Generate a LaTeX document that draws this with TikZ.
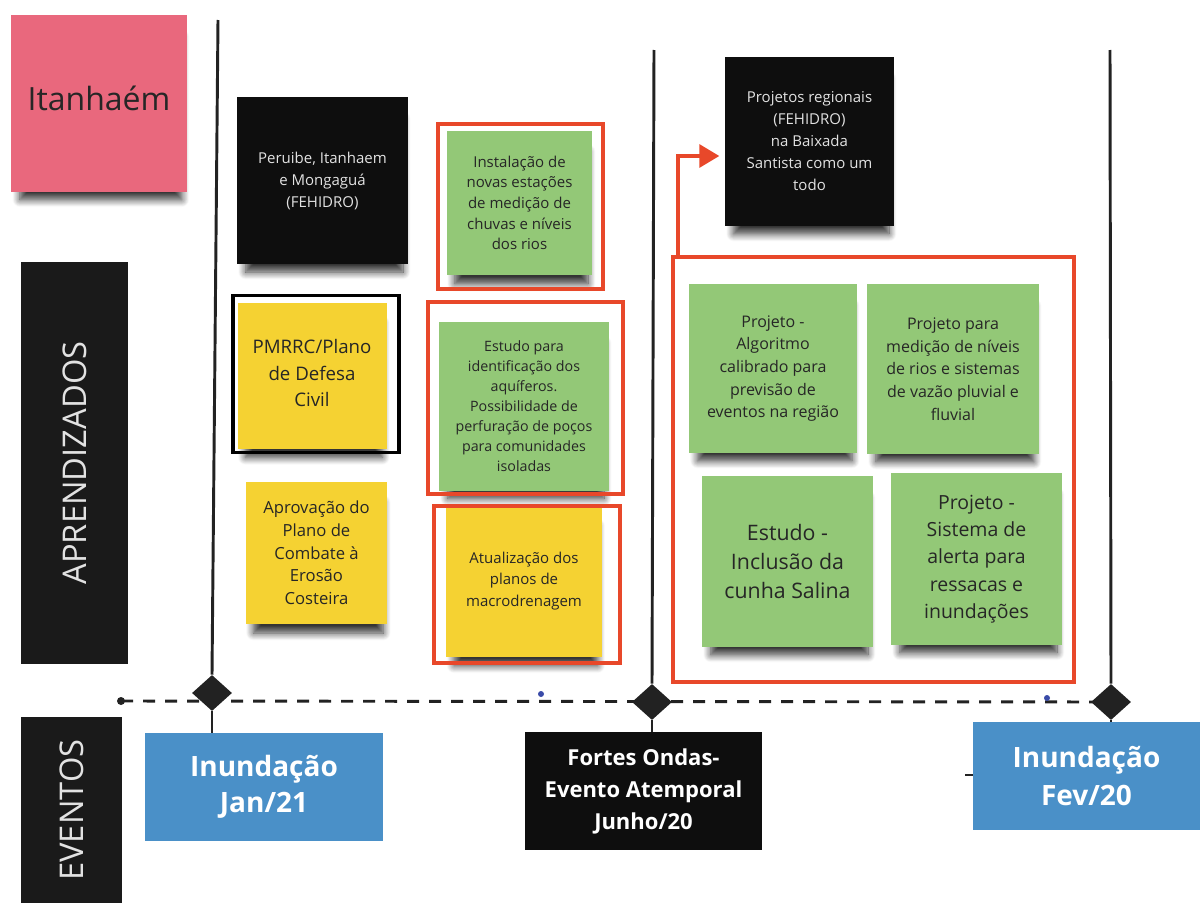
\documentclass[tikz,border=0pt]{standalone}
\usepackage{fontspec}
\setmainfont{Open Sans}
\usetikzlibrary{arrows.meta,calc,shapes.geometric,shadows.blur}
\definecolor{pinkc}{HTML}{E9687D}
\definecolor{greenc}{HTML}{93C877}
\definecolor{yellowc}{HTML}{F5D232}
\definecolor{bluec}{HTML}{4A90C8}
\definecolor{redc}{HTML}{E8482A}
\definecolor{blackc}{HTML}{0E0E0E}
\definecolor{barc}{HTML}{1A1A1A}
\definecolor{linec}{HTML}{222222}
\definecolor{notetext}{HTML}{262626}
\definecolor{lighttext}{HTML}{E2E2E2}
\definecolor{bluedot}{HTML}{3A4BA8}
\newcommand\setfs[2]{\fontsize{#1}{#2}\selectfont}
\tikzset{
  box/.style 2 args={minimum width=#1*0.75pt, minimum height=#2*0.75pt, inner sep=0pt, align=center, anchor=center},
  note/.style={blur shadow={shadow xshift=1.5pt, shadow yshift=-12pt, shadow scale=0.92, shadow opacity=80, shadow blur steps=10, shadow blur radius=6pt}, text=notetext},
  gnote/.style={note, fill=greenc},
  ynote/.style={note, fill=yellowc},
  knote/.style={note, fill=blackc, text=lighttext},
  redframe/.style={draw=redc, line width=2.4pt},
  vline/.style={draw=linec, line width=2.2pt},
  evbox/.style={text=white},
  dmd/.style={diamond, fill=linec, minimum width=30pt, minimum height=27pt, inner sep=0pt},
  dashline/.style={draw=linec, line width=2.2pt, dash pattern=on 9pt off 7.5pt},
}
\begin{document}
\begin{tikzpicture}[x=0.75pt,y=-0.75pt]
\useasboundingbox (0,0) rectangle (1200,903);

% side bars
\node[box={176}{177}, fill=pinkc, note, font=\setfs{24}{30}] (itan) at (99,103.5) {};
\node[text=notetext, font=\setfs{24}{30}, inner sep=0pt] (itantxt) at (99,98) {Itanhaém};
\node[box={402}{107}, rotate=90, fill=barc, text=lighttext, font=\setfs{24.5}{30}] (aprbar) at (74.5,463) {APRENDIZADOS};
\node[box={186}{101}, rotate=90, fill=barc, text=lighttext, font=\setfs{24.5}{30}] (evbar) at (71.5,810) {EVENTOS};

% timeline
\coordinate (t1) at (218,20);
\coordinate (t2) at (654,50);
\coordinate (t3) at (1110,50);
\node[circle, fill=linec, minimum size=6pt, inner sep=0pt] (ldot) at (121,701) {};
\coordinate (dend) at (1111,702);
\draw[dashline] (ldot.center) -- (dend);
\node[dmd] (d1) at (212,693) {};
\node[dmd] (d2) at (652,702) {};
\node[dmd] (d3) at (1111,702) {};
\draw[vline] (t1) -- (d1.north);
\draw[vline] (t2) -- (d2.north);
\draw[vline] (t3) -- (d3.north);
\node[circle, fill=bluedot, minimum size=4.5pt, inner sep=0pt] (bd1) at (541,694) {};
\node[circle, fill=bluedot, minimum size=4.5pt, inner sep=0pt] (bd2) at (1047,698) {};

% column 1
\node[box={171}{167}, knote, font=\setfs{11.25}{16.5}] (peru) at (322.5,180.5) {Peruibe, Itanhaem\\e Mongaguá\\(FEHIDRO)};
\node[box={149}{146}, ynote, font=\setfs{14}{20}] (pmrrc) at (312,375.5) {};
\node[text=notetext, font=\setfs{14}{20}, align=center, inner sep=0pt] (pmrrctxt) at (312,373) {PMRRC/Plano\\de Defesa\\Civil};
\node[box={166}{157}, draw=black, line width=2.4pt] (pmf) at (316,374) {};
\node[box={141}{142}, ynote, font=\setfs{12.5}{17}] (aprov) at (316.5,553) {Aprovação do\\Plano de\\Combate à\\Erosão\\Costeira};

% column 2
\node[box={145}{144}, gnote, font=\setfs{11.25}{15.5}] (inst) at (519.5,203) {Instalação de\\novas estações\\de medição de\\chuvas e níveis\\dos rios};
\node[box={165}{165}, redframe] (instf) at (520.5,206.5) {};
\node[box={170}{169}, gnote, font=\setfs{10.7}{15}] (estu) at (524,406) {Estudo para\\identificação dos\\aquíferos.\\Possibilidade de\\perfuração de poços\\para comunidades\\isoladas};
\node[box={195}{192}, redframe] (estuf) at (525.5,398) {};
\node[box={156}{152}, ynote, font=\setfs{11.25}{16}] (atual) at (524,581) {Atualização dos\\planos de\\macrodrenagem};
\node[box={186}{157}, redframe] (atualf) at (527,584.5) {};

% column 3
\node[box={169}{169}, knote, font=\setfs{11.25}{16.5}] (proj) at (809.5,141.5) {Projetos regionais\\(FEHIDRO)\\na Baixada\\Santista como um\\todo};
\node[box={401}{425}, redframe] (bigf) at (873.5,469.5) {};
\draw[draw=redc, line width=3pt, -{Triangle[length=15pt,width=17pt]}, shorten >=4pt]
  ($(bigf.north west)+(7,0)$) |- ($(proj.west)+(0,14.5)$);
\node[box={168}{169}, gnote, font=\setfs{12}{17}] (alg) at (773,368.5) {Projeto -\\Algoritmo\\calibrado para\\previsão de\\eventos na região};
\node[box={172}{170}, gnote, font=\setfs{12}{17}] (med) at (953,369) {Projeto para\\medição de níveis\\de rios e sistemas\\de vazão pluvial e\\fluvial};
\node[box={171}{171}, gnote, font=\setfs{16}{21.5}] (inc) at (787.5,561.5) {Estudo -\\Inclusão da\\cunha Salina};
\node[box={171}{172}, gnote, font=\setfs{14.6}{20.5}] (sis) at (976.5,559) {Projeto -\\Sistema de\\alerta para\\ressacas e\\inundações};

% events
\node[box={238}{108}, fill=bluec, evbox, font=\bfseries\setfs{21}{27}] (jan) at (264,787) {Inundação\\Jan/21};
\node[box={237}{118}, fill=blackc, evbox, font=\bfseries\setfs{16.5}{24}] (fortes) at (643.5,791) {Fortes Ondas-\\Evento Atemporal\\Junho/20};
\node[box={227}{108}, fill=bluec, evbox, font=\bfseries\setfs{21}{29}] (fev) at (1086.5,776) {Inundação\\Fev/20};
\draw[vline] (d1.south) -- (d1.south |- jan.north);
\draw[vline] (d2.south) -- (d2.south |- fortes.north);
\draw[vline] (d3.south) -- (d3.south |- fev.north);
\coordinate (tk) at (965,775);
\draw[draw=linec, line width=0.8pt] (tk) -- (tk -| fev.west);
\end{tikzpicture}
\end{document}
